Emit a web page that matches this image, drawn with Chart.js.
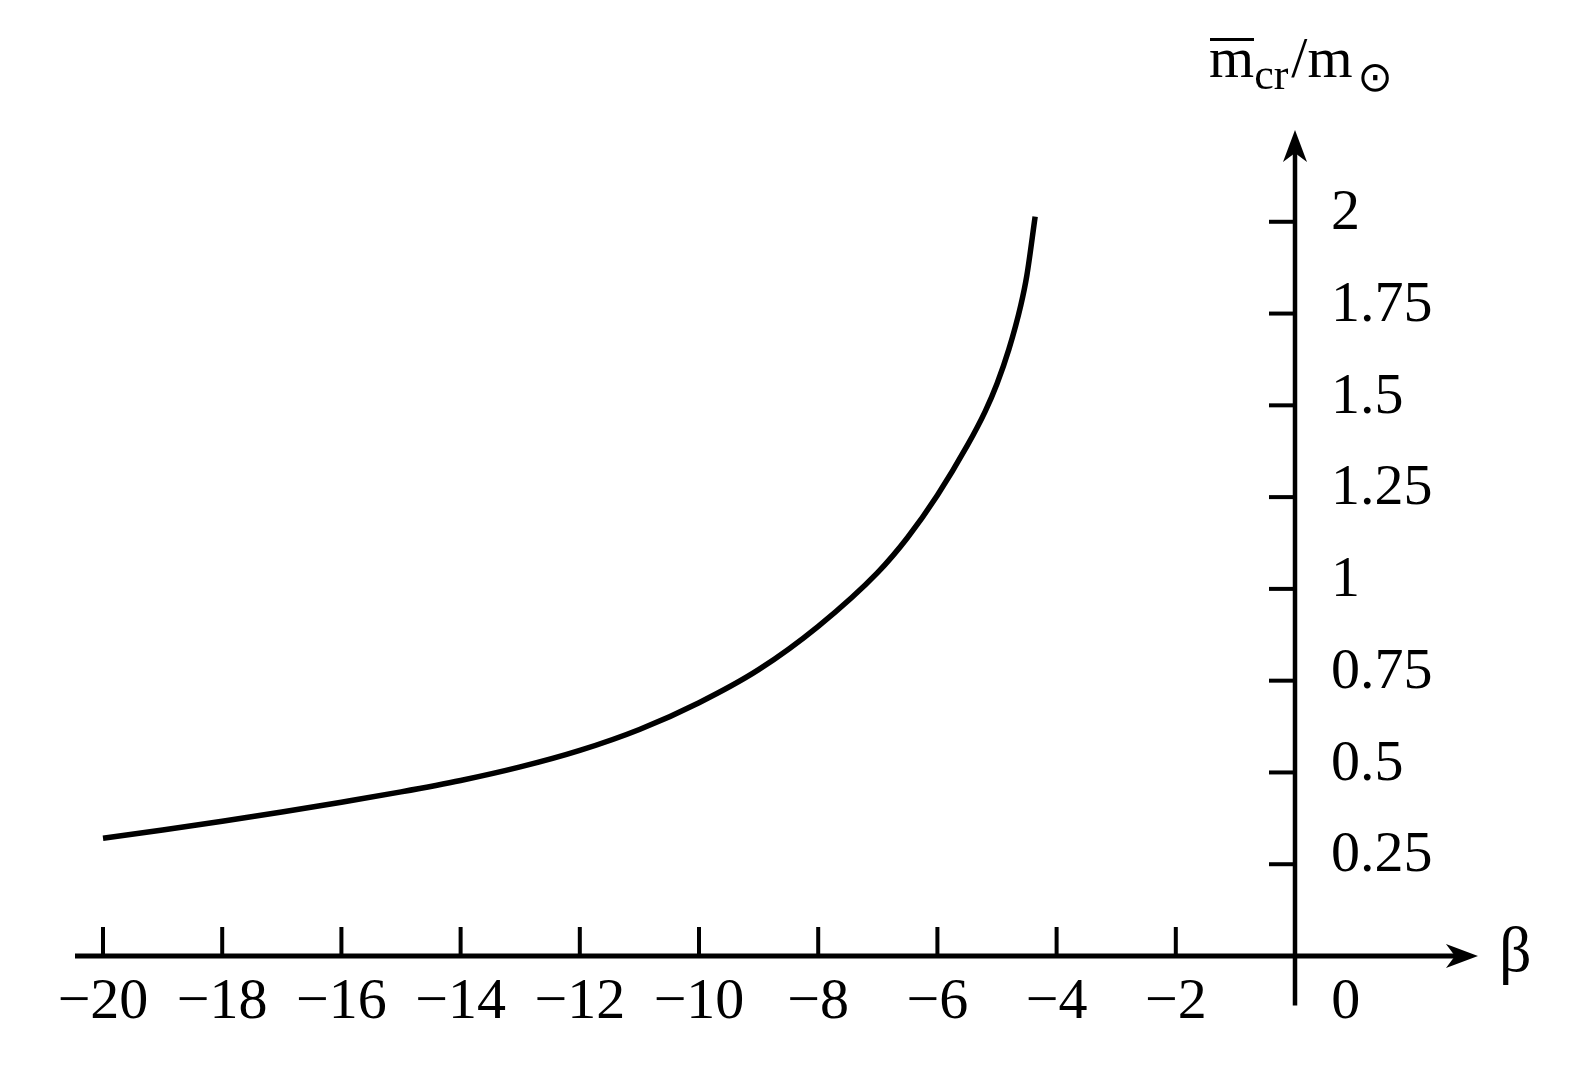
<!DOCTYPE html>
<html>
<head>
<meta charset="utf-8">
<script src="https://cdn.jsdelivr.net/npm/chart.js@4.4.1/dist/chart.umd.min.js"></script>
<style>
  html, body { margin: 0; padding: 0; background: #fff; }
  #wrap { position: relative; width: 1578px; height: 1080px; overflow: hidden; }
  #chart { position: absolute; left: 0; top: 0; }
  .lbl {
    position: absolute;
    font-family: 'Liberation Serif', 'Times New Roman', serif;
    font-size: 58px;
    line-height: 58px;
    color: #000;
    white-space: nowrap;
  }
  .bar { position: relative; }
  .bar::before {
    content: '';
    position: absolute;
    left: 1px; right: 0; top: 13px;
    border-top: 3px solid #000;
  }
  .sub { font-size: 44px; position: relative; top: 12px; margin-right: 3px; }
  .sun { font-family: 'DejaVu Sans', sans-serif; font-size: 42px; position: relative; top: 14px; margin-left: 5px; }
</style>
</head>
<body>
<div id="wrap">
  <canvas id="chart" width="1578" height="1080"></canvas>
  <div class="lbl" style="left:1209px; top:29px;"><span class="bar">m</span><span class="sub">cr</span>/m<span class="sun">⊙</span></div>
  <div class="lbl" style="left:1499px; top:921px; font-size:64px;">β</div>
</div>
<script>
// critical mass vs beta
const betaVals = [-20, -19, -18, -17, -16, -15, -14, -13, -12, -11, -10, -9, -8, -7, -6.5, -6, -5.5, -5.2, -5, -4.8, -4.6, -4.5, -4.36];
const massVals = [0.321, 0.343, 0.367, 0.392, 0.419, 0.447, 0.478, 0.515, 0.56, 0.617, 0.69, 0.78, 0.898, 1.045, 1.14, 1.255, 1.39, 1.483, 1.559, 1.653, 1.773, 1.853, 2.014];

const xTickVals = [-20, -18, -16, -14, -12, -10, -8, -6, -4, -2, 0];
const xTickLabels = ['−20', '−18', '−16', '−14', '−12', '−10', '−8', '−6', '−4', '−2', '0'];
const yTickVals = [0.25, 0.5, 0.75, 1, 1.25, 1.5, 1.75, 2];
const yTickLabels = ['0.25', '0.5', '0.75', '1', '1.25', '1.5', '1.75', '2'];

const serif = 'Liberation Serif';

// axis lines with arrows, plus inward tick marks
const axesPlugin = {
  id: 'axesPlugin',
  afterDraw(chart) {
    const xs = chart.scales.x;
    const ys = chart.scales.y;
    const ctx = chart.ctx;
    const x0 = xs.getPixelForValue(0);
    const y0 = ys.getPixelForValue(0);
    const xEnd = xs.getPixelForValue(3.07);
    const yTop = ys.getPixelForValue(2.25);
    const yBot = ys.getPixelForValue(-0.135);

    ctx.save();
    ctx.strokeStyle = '#000';
    ctx.fillStyle = '#000';
    ctx.lineCap = 'butt';

    // x axis
    ctx.lineWidth = 5;
    ctx.beginPath();
    ctx.moveTo(xs.getPixelForValue(xs.min), y0);
    ctx.lineTo(xEnd - 20, y0);
    ctx.stroke();
    ctx.beginPath();
    ctx.moveTo(xEnd, y0);
    ctx.lineTo(xEnd - 32, y0 - 12);
    ctx.lineTo(xEnd - 23, y0);
    ctx.lineTo(xEnd - 32, y0 + 12);
    ctx.closePath();
    ctx.fill();

    // y axis
    ctx.lineWidth = 4.5;
    ctx.beginPath();
    ctx.moveTo(x0, yBot);
    ctx.lineTo(x0, yTop + 20);
    ctx.stroke();
    ctx.beginPath();
    ctx.moveTo(x0, yTop);
    ctx.lineTo(x0 - 12, yTop + 32);
    ctx.lineTo(x0, yTop + 23);
    ctx.lineTo(x0 + 12, yTop + 32);
    ctx.closePath();
    ctx.fill();

    // ticks
    ctx.lineWidth = 4;
    xs.ticks.forEach(t => {
      if (t.value === 0) return;
      const px = xs.getPixelForValue(t.value);
      ctx.beginPath();
      ctx.moveTo(px, y0 - 29);
      ctx.lineTo(px, y0);
      ctx.stroke();
    });
    ys.ticks.forEach(t => {
      const py = ys.getPixelForValue(t.value);
      ctx.beginPath();
      ctx.moveTo(x0 - 26, py);
      ctx.lineTo(x0, py);
      ctx.stroke();
    });
    ctx.restore();
  }
};

new Chart(document.getElementById('chart'), {
  type: 'scatter',
  data: {
    datasets: [{
      data: betaVals.map((b, i) => ({ x: b, y: massVals[i] })),
      showLine: true,
      borderColor: '#000',
      borderWidth: 5.5,
      pointRadius: 0,
      cubicInterpolationMode: 'monotone',
      fill: false
    }]
  },
  options: {
    responsive: false,
    animation: false,
    events: [],
    layout: { padding: { left: 75, top: 130, right: 83, bottom: 14 } },
    plugins: { legend: { display: false }, tooltip: { enabled: false } },
    scales: {
      x: {
        type: 'linear',
        position: 'bottom',
        min: -20.47,
        max: 0,
        afterBuildTicks: s => { s.ticks = xTickVals.map(v => ({ value: v })); },
        afterFit: s => { s.height = 110; },
        grid: { display: false, drawTicks: false },
        border: { display: false },
        ticks: {
          autoSkip: false,
          maxRotation: 0,
          padding: 12,
          color: '#000',
          font: { family: serif, size: 58 },
          callback: v => {
            const lab = xTickLabels[xTickVals.indexOf(v)];
            return v === 0 ? '       ' + lab : lab;
          }
        }
      },
      y: {
        type: 'linear',
        position: 'right',
        min: 0,
        max: 2.25,
        afterBuildTicks: s => { s.ticks = yTickVals.map(v => ({ value: v })); },
        afterFit: s => { s.width = 200; },
        grid: { display: false, drawTicks: false },
        border: { display: false },
        ticks: {
          autoSkip: false,
          padding: 36,
          labelOffset: -8,
          color: '#000',
          font: { family: serif, size: 58 },
          callback: v => yTickLabels[yTickVals.indexOf(v)]
        }
      }
    }
  },
  plugins: [axesPlugin]
});
</script>
</body>
</html>
